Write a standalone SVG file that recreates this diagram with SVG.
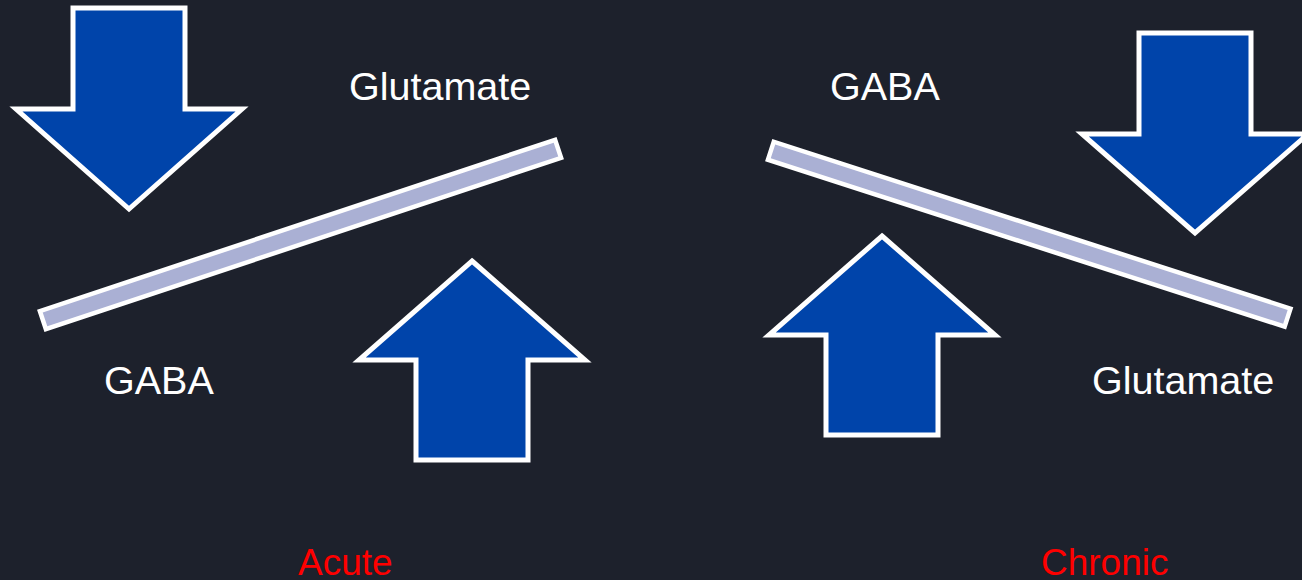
<svg xmlns="http://www.w3.org/2000/svg" width="1302" height="580" viewBox="0 0 1302 580">
  <style>
    .arrow { fill: #0044aa; stroke: #ffffff; stroke-width: 5; stroke-linejoin: miter; stroke-miterlimit: 10; }
    .bar { fill: #aab0d4; stroke: #ffffff; stroke-width: 4.5; }
    .lbl { font-family: "Liberation Sans", Arial, sans-serif; font-size: 39.5px; fill: #ffffff; }
    .cap { font-family: "Liberation Sans", Arial, sans-serif; font-size: 37px; fill: #ff0000; }
  </style>
  <rect x="0" y="0" width="1302" height="580" fill="#1d212c"/>

  <g id="acute">
    <g id="acute-balance">
      <rect class="bar" x="-271.5" y="-9.5" width="543" height="19" transform="translate(300.5 234.5) rotate(-18.4)"/>
    </g>
    <g id="acute-gaba-down">
      <polygon class="arrow" points="73,8 185,8 185,109 242,109 129,209 16,109 73,109"/>
    </g>
    <g id="acute-glutamate-up">
      <polygon class="arrow" points="472,261 585,360 528,360 528,460 416,460 416,360 359,360"/>
    </g>
    <g id="acute-labels">
      <text class="lbl" x="349" y="99.5">Glutamate</text>
      <text class="lbl" x="104" y="394">GABA</text>
      <text class="cap" x="298" y="575">Acute</text>
    </g>
  </g>

  <g id="chronic">
    <g id="chronic-balance">
      <rect class="bar" x="-271.5" y="-9.5" width="543" height="19" transform="translate(1029.2 234.2) rotate(17.9)"/>
    </g>
    <g id="chronic-glutamate-down">
      <polygon class="arrow" points="1139,33 1251,33 1251,134 1308,134 1195,233 1082,134 1139,134"/>
    </g>
    <g id="chronic-gaba-up">
      <polygon class="arrow" points="882,236 995,335 938,335 938,435 826,435 826,335 769,335"/>
    </g>
    <g id="chronic-labels">
      <text class="lbl" x="830" y="99.5">GABA</text>
      <text class="lbl" x="1092" y="394">Glutamate</text>
      <text class="cap" x="1041" y="575">Chronic</text>
    </g>
  </g>

  <g id="connectors"/>
</svg>
